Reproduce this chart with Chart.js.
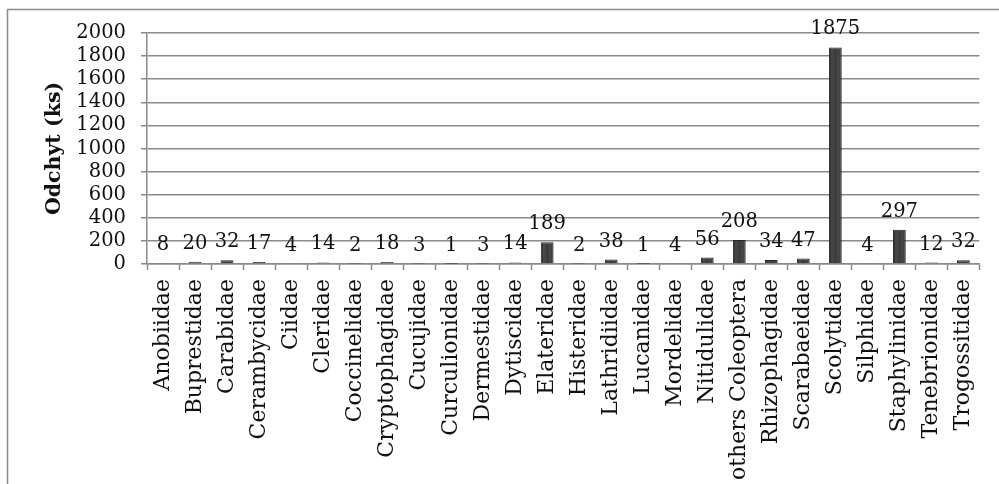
<!DOCTYPE html>
<html>
<head>
<meta charset="utf-8">
<script src="https://cdn.jsdelivr.net/npm/chart.js@4/dist/chart.umd.min.js"></script>
<style>
  html, body { margin: 0; padding: 0; background: #ffffff; }
  #wrap { width: 999px; height: 484px; position: relative; }
</style>
</head>
<body>
<div id="wrap"><canvas id="c" width="999" height="484"></canvas></div>
<script>
// Beetle families caught (count, ks)
const families = [
  'Anobiidae', 'Buprestidae', 'Carabidae', 'Cerambycidae', 'Ciidae', 'Cleridae',
  'Coccinelidae', 'Cryptophagidae', 'Cucujidae', 'Curculionidae', 'Dermestidae',
  'Dytiscidae', 'Elateridae', 'Histeridae', 'Lathridiidae', 'Lucanidae',
  'Mordelidae', 'Nitidulidae', 'others Coleoptera', 'Rhizophagidae',
  'Scarabaeidae', 'Scolytidae', 'Silphidae', 'Staphylinidae', 'Tenebrionidae',
  'Trogossitidae'
];
const counts = [
  8, 20, 32, 17, 4, 14,
  2, 18, 3, 1, 3,
  14, 189, 2, 38, 1,
  4, 56, 208, 34,
  47, 1875, 4, 297, 12,
  32
];
const yTicks = [0, 200, 400, 600, 800, 1000, 1200, 1400, 1600, 1800, 2000];
const yTitle = 'Odchyt (ks)';

const SERIF = '"DejaVu Serif", "Liberation Serif", serif';
const GRID = '#8a8a8a';
const BAR_FRACTION = 0.4;

// Outer frame of the chart object
const framePlugin = {
  id: 'frame',
  beforeDraw(chart) {
    const c = chart.ctx;
    c.save();
    c.fillStyle = '#ffffff';
    c.fillRect(0, 0, chart.width, chart.height);
    c.strokeStyle = '#8c8c8c';
    c.lineWidth = 1.5;
    c.strokeRect(7.5, 9.5, chart.width + 20, chart.height + 20);
    c.restore();
  }
};

// Value written above each bar
const valueLabels = {
  id: 'valueLabels',
  afterDatasetsDraw(chart) {
    const c = chart.ctx;
    const meta = chart.getDatasetMeta(0);
    c.save();
    c.font = '19.5px ' + SERIF;
    c.fillStyle = '#111111';
    c.textAlign = 'center';
    c.textBaseline = 'alphabetic';
    meta.data.forEach((bar, i) => {
      c.fillText(String(chart.data.datasets[0].data[i]), bar.x, bar.y - 13);
    });
    c.restore();
  }
};

// Bevelled dark fill: darker at the sides, lighter band inside
function barFill(context) {
  const chart = context.chart;
  const xs = chart.scales.x;
  if (!xs || context.dataIndex === undefined) return '#3e3e3e';
  const cx = xs.getPixelForValue(context.dataIndex);
  const half = (xs.width / families.length) * BAR_FRACTION / 2;
  if (!isFinite(cx) || !isFinite(half) || half <= 0) return '#3e3e3e';
  const g = chart.ctx.createLinearGradient(cx - half, 0, cx + half, 0);
  g.addColorStop(0, '#1c1c1c');
  g.addColorStop(0.22, '#4a4a4a');
  g.addColorStop(0.5, '#3a3a3a');
  g.addColorStop(0.78, '#4a4a4a');
  g.addColorStop(1, '#1c1c1c');
  return g;
}

new Chart(document.getElementById('c'), {
  type: 'bar',
  data: {
    labels: families,
    datasets: [{
      data: counts,
      backgroundColor: barFill,
      borderColor: '#262626',
      borderWidth: 1,
      categoryPercentage: 1.0,
      barPercentage: BAR_FRACTION
    }]
  },
  options: {
    responsive: false,
    animation: false,
    events: [],
    layout: { padding: { left: 30, right: 11, top: 33, bottom: 0 } },
    plugins: {
      legend: { display: false },
      tooltip: { enabled: false }
    },
    scales: {
      x: {
        grid: {
          display: true,
          drawOnChartArea: false,
          drawTicks: true,
          tickLength: 6,
          tickWidth: 1.5,
          tickColor: GRID,
          offset: true
        },
        border: { display: true, color: GRID, width: 1.5 },
        ticks: {
          autoSkip: false,
          minRotation: 90,
          maxRotation: 90,
          padding: 9,
          color: '#111111',
          font: { family: SERIF, size: 22 }
        },
        afterFit(scale) { scale.height = 484 - 264; }
      },
      y: {
        min: 0,
        max: 2000,
        afterBuildTicks(scale) { scale.ticks = yTicks.map(v => ({ value: v })); },
        grid: {
          color: GRID,
          lineWidth: 1.5,
          drawTicks: true,
          tickLength: 6,
          tickColor: GRID
        },
        border: { display: true, color: GRID, width: 1.5 },
        ticks: {
          autoSkip: false,
          padding: 15,
          color: '#111111',
          font: { family: SERIF, size: 19.5 },
          callback: (v) => String(v)
        },
        title: {
          display: true,
          text: yTitle,
          color: '#111111',
          font: { family: SERIF, size: 20.5, weight: 'bold' },
          padding: { top: 12, bottom: 0 }
        },
        afterFit(scale) { scale.width = 147 - 30; }
      }
    }
  },
  plugins: [framePlugin, valueLabels]
});
</script>
</body>
</html>
